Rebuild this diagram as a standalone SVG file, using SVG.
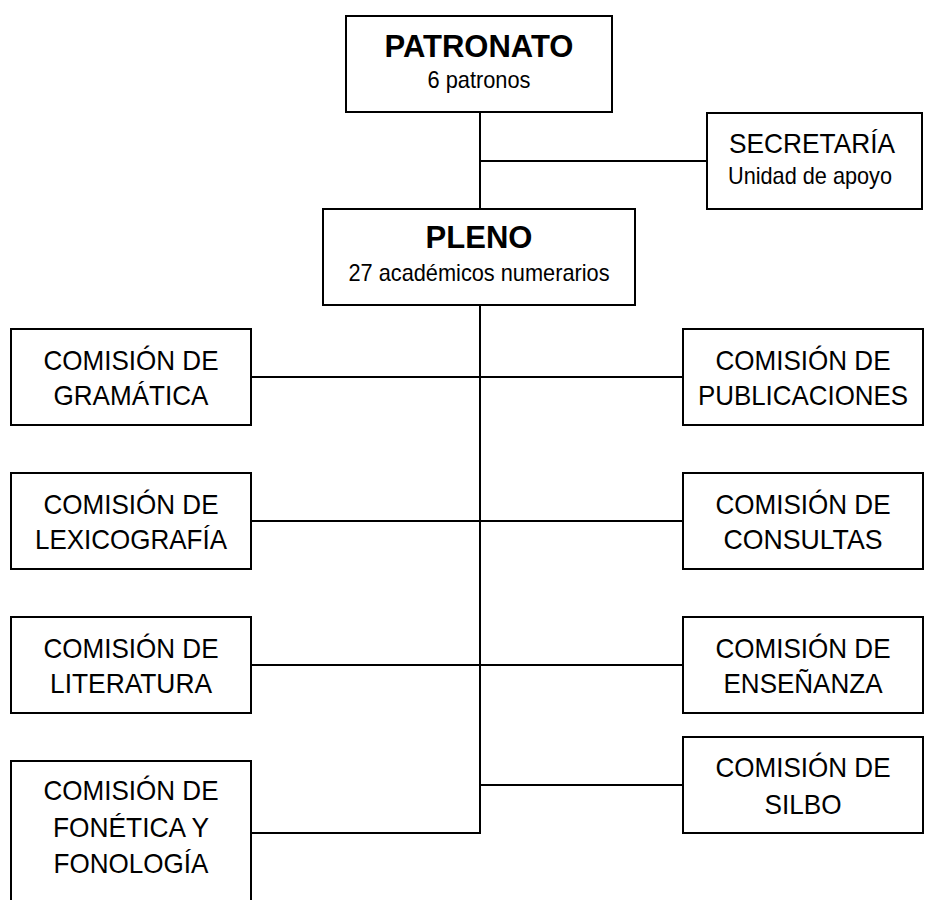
<svg xmlns="http://www.w3.org/2000/svg" width="934" height="900" viewBox="0 0 934 900">
<style>
rect{fill:#fff;stroke:#000;stroke-width:2}
.c line,.c polyline{stroke:#000;stroke-width:2;fill:none}
text{font-family:"Liberation Sans",Arial,sans-serif;fill:#000;text-anchor:middle}
.t{font-size:31px;font-weight:bold}
.s{font-size:24px}
.m{font-size:28px}
</style>
<rect x="0" y="0" width="934" height="900" style="stroke:none"/>
<g class="c" id="connectors">
<line x1="480" y1="112" x2="480" y2="209"/>
<line x1="480" y1="161" x2="707" y2="161"/>
<polyline points="480,305 480,833 251,833"/>
<line x1="251" y1="377" x2="683" y2="377"/>
<line x1="251" y1="521" x2="683" y2="521"/>
<line x1="251" y1="665" x2="683" y2="665"/>
<line x1="480" y1="785" x2="683" y2="785"/>
</g>
<g id="patronato"><rect x="346" y="16" width="266" height="96"/><text class="t" x="479" y="57">PATRONATO</text><text class="s" x="479" y="88" textLength="103" lengthAdjust="spacingAndGlyphs">6 patronos</text></g>
<g id="secretaria"><rect x="707" y="113" width="215" height="96"/><text class="m" x="812" y="153" textLength="166" lengthAdjust="spacingAndGlyphs">SECRETARÍA</text><text class="s" x="810" y="184" textLength="164" lengthAdjust="spacingAndGlyphs">Unidad de apoyo</text></g>
<g id="pleno"><rect x="323" y="209" width="312" height="96"/><text class="t" x="479" y="248">PLENO</text><text class="s" x="479" y="281" textLength="261" lengthAdjust="spacingAndGlyphs">27 académicos numerarios</text></g>
<g id="gramatica"><rect x="11" y="329" width="240" height="96"/><text class="m" x="131" y="370" textLength="175" lengthAdjust="spacingAndGlyphs">COMISIÓN DE</text><text class="m" x="131" y="405" textLength="155" lengthAdjust="spacingAndGlyphs">GRAMÁTICA</text></g>
<g id="lexicografia"><rect x="11" y="473" width="240" height="96"/><text class="m" x="131" y="514" textLength="175" lengthAdjust="spacingAndGlyphs">COMISIÓN DE</text><text class="m" x="131" y="549" textLength="192" lengthAdjust="spacingAndGlyphs">LEXICOGRAFÍA</text></g>
<g id="literatura"><rect x="11" y="617" width="240" height="96"/><text class="m" x="131" y="658" textLength="175" lengthAdjust="spacingAndGlyphs">COMISIÓN DE</text><text class="m" x="131" y="693" textLength="162" lengthAdjust="spacingAndGlyphs">LITERATURA</text></g>
<g id="fonetica"><rect x="11" y="761" width="240" height="150"/><text class="m" x="131" y="800" textLength="175" lengthAdjust="spacingAndGlyphs">COMISIÓN DE</text><text class="m" x="131" y="837" textLength="156" lengthAdjust="spacingAndGlyphs">FONÉTICA Y</text><text class="m" x="131" y="873" textLength="155" lengthAdjust="spacingAndGlyphs">FONOLOGÍA</text></g>
<g id="publicaciones"><rect x="683" y="329" width="240" height="96"/><text class="m" x="803" y="370" textLength="175" lengthAdjust="spacingAndGlyphs">COMISIÓN DE</text><text class="m" x="803" y="405" textLength="210" lengthAdjust="spacingAndGlyphs">PUBLICACIONES</text></g>
<g id="consultas"><rect x="683" y="473" width="240" height="96"/><text class="m" x="803" y="514" textLength="175" lengthAdjust="spacingAndGlyphs">COMISIÓN DE</text><text class="m" x="803" y="549" textLength="159" lengthAdjust="spacingAndGlyphs">CONSULTAS</text></g>
<g id="ensenanza"><rect x="683" y="617" width="240" height="96"/><text class="m" x="803" y="658" textLength="175" lengthAdjust="spacingAndGlyphs">COMISIÓN DE</text><text class="m" x="803" y="693" textLength="159" lengthAdjust="spacingAndGlyphs">ENSEÑANZA</text></g>
<g id="silbo"><rect x="683" y="737" width="240" height="96"/><text class="m" x="803" y="777" textLength="175" lengthAdjust="spacingAndGlyphs">COMISIÓN DE</text><text class="m" x="803" y="814" textLength="77" lengthAdjust="spacingAndGlyphs">SILBO</text></g>
</svg>
